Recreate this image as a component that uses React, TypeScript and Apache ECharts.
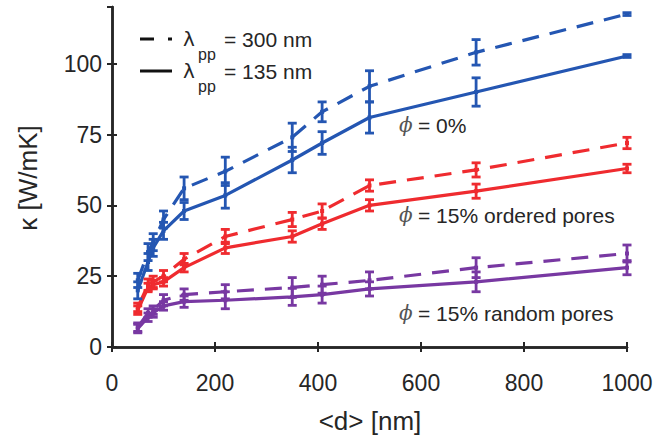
import React, { useEffect, useRef } from "react";
import * as echarts from "echarts";

// Average grain size <d> in nm
const diam = [50, 70, 80, 100, 140, 220, 350, 408, 500, 707, 1000];

// Thermal conductivity κ [W/mK] and ± uncertainty per series
const bulk300 = [23.5, 33.5, 37, 45, 56, 62, 74, 83, 92, 104, 117.5];
const bulk300Err = [2.5, 3, 3, 3, 4, 5, 5, 3.5, 5.5, 4.5, 0.5];
const bulk135 = [20, 30, 35, 41, 48, 53.5, 66, 72, 81, 90, 102.7];
const bulk135Err = [3, 3, 3, 3, 3, 4.5, 4.5, 4, 5.5, 5, 0.5];

const ordered300 = [14, 22, 23, 25, 31, 39, 45, 48, 57, 62.5, 72];
const ordered300Err = [1.5, 2, 2, 2, 2, 2.5, 2.5, 2.5, 2, 2.5, 2];
const ordered135 = [13, 21, 22, 23, 28, 35, 39, 43.5, 50, 55, 63];
const ordered135Err = [1.5, 1.5, 1.5, 1.5, 1.5, 2, 2, 2, 2, 2.5, 1.5];

const random300 = [7, 12, 13, 16.5, 18.5, 19.5, 21, 22, 23.5, 28, 33];
const random300Err = [1.5, 1.5, 1.5, 2, 2, 2.5, 3.5, 3, 3, 3.5, 3];
const random135 = [6.5, 10.5, 12, 14.5, 16, 16.5, 17.7, 18.5, 20.5, 23, 28];
const random135Err = [1.5, 1.5, 1.5, 1.5, 2, 3, 3, 3, 2.5, 3.5, 2.5];

const xTicks = [0, 200, 400, 600, 800, 1000];
const yTicks = [0, 25, 50, 75, 100];

const BLUE = "#2456b2";
const RED = "#ef2b2f";
const PURPLE = "#7838a2";
const INK = "#262626";
const FONT = "Liberation Sans, Arial, sans-serif";
const DASH = [17, 11];

function lineSeries(vals: number[], color: string, dashed: boolean) {
  return {
    type: "line",
    data: diam.map((d, i) => [d, vals[i]]),
    symbol: "rect",
    symbolSize: 4,
    itemStyle: { color },
    lineStyle: { color, width: 3.2, type: dashed ? DASH : "solid" },
    z: 3,
  };
}

function errorSeries(vals: number[], errs: number[], color: string) {
  return {
    type: "custom",
    data: diam.map((d, i) => [d, vals[i] - errs[i], vals[i] + errs[i]]),
    encode: { x: 0, y: [1, 2] },
    z: 4,
    renderItem: (_params: any, api: any) => {
      const x = api.value(0);
      const lo = api.coord([x, api.value(1)]);
      const hi = api.coord([x, api.value(2)]);
      const w = 4.5;
      const style = { stroke: color, lineWidth: 2.8 };
      return {
        type: "group",
        children: [
          { type: "line", shape: { x1: lo[0], y1: lo[1], x2: hi[0], y2: hi[1] }, style },
          { type: "line", shape: { x1: lo[0] - w, y1: lo[1], x2: lo[0] + w, y2: lo[1] }, style },
          { type: "line", shape: { x1: hi[0] - w, y1: hi[1], x2: hi[0] + w, y2: hi[1] }, style },
        ],
      };
    },
  };
}

export default function App() {
  const ref = useRef<HTMLDivElement>(null);

  useEffect(() => {
    document.body.style.margin = "0";
    if (!ref.current) return;
    const chart = echarts.init(ref.current, undefined, { renderer: "svg" });

    const axisLine = { show: true, lineStyle: { color: INK, width: 2.5 } };
    const tick = { show: true, inside: true, length: 5, lineStyle: { color: INK, width: 2 } };
    const label = { color: INK, fontSize: 23, fontFamily: FONT };

    const phiText = (y: number, rest: string) => [
      {
        type: "text",
        left: 399,
        top: y - 12,
        style: { text: "ϕ", fontSize: 20, fontStyle: "italic", fontFamily: "DejaVu Serif, serif", fill: "#555" },
      },
      {
        type: "text",
        left: 418,
        top: y - 12,
        style: { text: rest, fontSize: 21, fontFamily: FONT, fill: INK },
      },
    ];

    const legendRow = (y: number, dashed: boolean, value: string) => [
      {
        type: "line",
        shape: { x1: 140, y1: y, x2: 172, y2: y },
        style: { stroke: "#111", lineWidth: 3, lineDash: dashed ? [14, 14] : null },
      },
      {
        type: "text",
        x: 183,
        y: y,
        style: { text: "λ", fontSize: 20, fontFamily: "DejaVu Sans, sans-serif", fill: INK, verticalAlign: "middle" },
      },
      {
        type: "text",
        x: 198,
        y: y + 15,
        style: { text: "pp", fontSize: 16, fontFamily: FONT, fill: INK, verticalAlign: "middle" },
      },
      {
        type: "text",
        x: 224,
        y: y,
        style: { text: "= " + value, fontSize: 21, fontFamily: FONT, fill: INK, verticalAlign: "middle" },
      },
    ];

    chart.setOption({
      animation: false,
      backgroundColor: "#fff",
      grid: { left: 112, right: 35, top: 7, bottom: 96 },
      xAxis: [
        {
          type: "value",
          min: 0,
          max: 1000,
          interval: 200,
          position: "bottom",
          axisLine,
          axisTick: tick,
          splitLine: { show: false },
          axisLabel: {
            ...label,
            margin: 24,
            formatter: (v: number) => (xTicks.includes(v) ? String(v) : ""),
          },
        },
        {
          type: "value",
          min: 0,
          max: 1000,
          interval: 200,
          position: "top",
          axisLine,
          axisTick: tick,
          splitLine: { show: false },
          axisLabel: { show: false },
        },
      ],
      yAxis: [
        {
          type: "value",
          min: 0,
          max: 120,
          interval: 25,
          position: "left",
          axisLine,
          axisTick: tick,
          splitLine: { show: false },
          axisLabel: {
            ...label,
            margin: 10,
            showMaxLabel: false,
            formatter: (v: number) => (yTicks.includes(v) ? String(v) : ""),
          },
        },
        {
          type: "value",
          min: 0,
          max: 120,
          interval: 25,
          position: "right",
          axisLine,
          axisTick: tick,
          splitLine: { show: false },
          axisLabel: { show: false },
        },
      ],
      series: [
        lineSeries(bulk300, BLUE, true),
        lineSeries(bulk135, BLUE, false),
        lineSeries(ordered300, RED, true),
        lineSeries(ordered135, RED, false),
        lineSeries(random300, PURPLE, true),
        lineSeries(random135, PURPLE, false),
        errorSeries(bulk300, bulk300Err, BLUE),
        errorSeries(bulk135, bulk135Err, BLUE),
        errorSeries(ordered300, ordered300Err, RED),
        errorSeries(ordered135, ordered135Err, RED),
        errorSeries(random300, random300Err, PURPLE),
        errorSeries(random135, random135Err, PURPLE),
      ],
      graphic: [
        ...legendRow(39, true, "300 nm"),
        ...legendRow(71, false, "135 nm"),
        ...phiText(127, "= 0%"),
        ...phiText(217, "= 15% ordered pores"),
        ...phiText(315, "= 15% random pores"),
        {
          type: "text",
          x: 370,
          y: 421,
          style: {
            text: "<d> [nm]",
            fontSize: 26,
            fontFamily: FONT,
            fill: INK,
            align: "center",
            verticalAlign: "middle",
          },
        },
        {
          type: "text",
          x: 28,
          y: 178,
          rotation: Math.PI / 2,
          style: {
            text: "κ [W/mK]",
            fontSize: 26,
            fontFamily: FONT,
            fill: INK,
            align: "center",
            verticalAlign: "middle",
          },
        },
      ],
    });

    return () => chart.dispose();
  }, []);

  return <div ref={ref} style={{ width: 662, height: 443 }} />;
}
